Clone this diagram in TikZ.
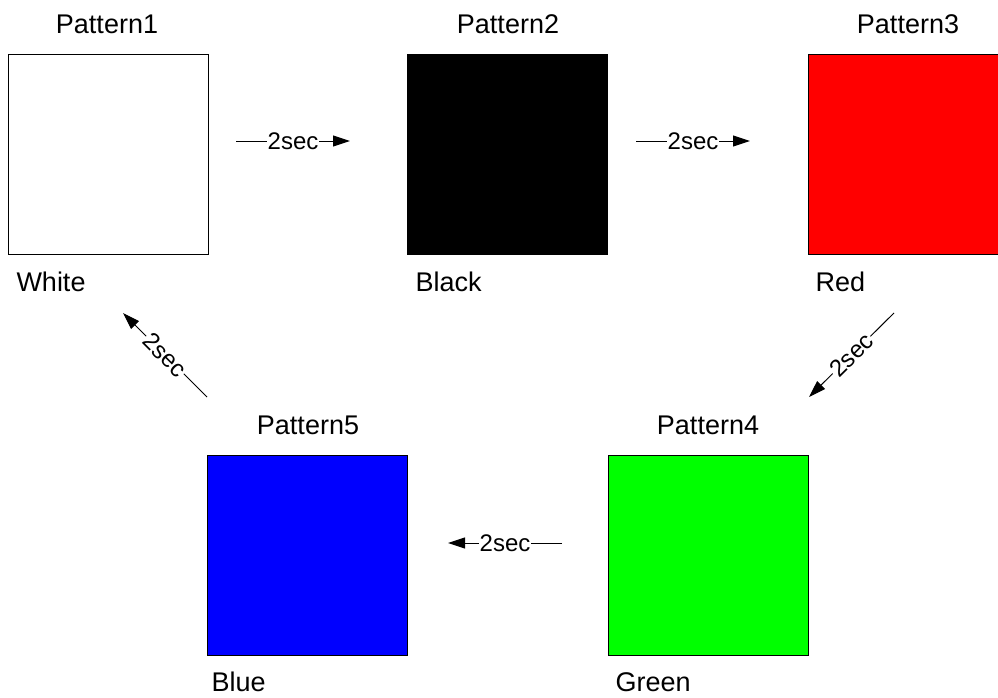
\documentclass[tikz,border=0pt]{standalone}
\usepackage{fontspec}
\setmainfont{Liberation Sans}
\usetikzlibrary{arrows.meta}

\begin{document}
\begin{tikzpicture}[x=1pt, y=-1pt, line width=1pt,
  patbox/.style={draw, minimum size=200pt, inner sep=0pt},
  toplabel/.style={font=\fontsize{27}{32}\selectfont, inner sep=0pt},
  namelabel/.style={font=\fontsize{27}{32}\selectfont, anchor=west, inner sep=0pt},
  timelabel/.style={font=\fontsize{24}{28}\selectfont, fill=white, inner sep=1pt, sloped, midway},
  timearrow/.style={-{Triangle[length=17pt,width=11pt]}}]
\useasboundingbox (0,0) rectangle (998,698);
\clip (0,0) rectangle (998,698);
\node[patbox] (p1) at (108,154.5) {};
\node[patbox, fill=black] (p2) at (507.5,154.5) {};
\node[patbox, fill=red] (p3) at (908,154.5) {};
\node[patbox, fill=green] (p4) at (708,555.5) {};
\node[patbox, fill=blue] (p5) at (307.5,555.5) {};
\node[toplabel] (t1) at (107,24) {Pattern1};
\node[toplabel] (t2) at (508,24) {Pattern2};
\node[toplabel] (t3) at (908,24) {Pattern3};
\node[toplabel] (t4) at (708,425) {Pattern4};
\node[toplabel] (t5) at (308,425) {Pattern5};
\node[namelabel] (n1) at (16,282) {White};
\node[namelabel] (n2) at (415,282) {Black};
\node[namelabel] (n3) at (815,282) {Red};
\node[namelabel] (n4) at (615,682) {Green};
\node[namelabel] (n5) at (211,682) {Blue};
\coordinate (a1) at (236,141);
\coordinate (b1) at (350,141);
\coordinate (a2) at (636,141);
\coordinate (b2) at (750,141);
\coordinate (a3) at (894,313);
\coordinate (b3) at (809,397);
\coordinate (a4) at (562,543);
\coordinate (b4) at (448,543);
\coordinate (a5) at (207,397);
\coordinate (b5) at (123,313);
\draw[timearrow] (a1) -- node[timelabel] {2sec} (b1);
\draw[timearrow] (a2) -- node[timelabel] {2sec} (b2);
\draw[timearrow] (a3) -- node[timelabel] {2sec} (b3);
\draw[timearrow] (a4) -- node[timelabel] {2sec} (b4);
\draw[timearrow] (a5) -- node[timelabel] {2sec} (b5);
\end{tikzpicture}
\end{document}
